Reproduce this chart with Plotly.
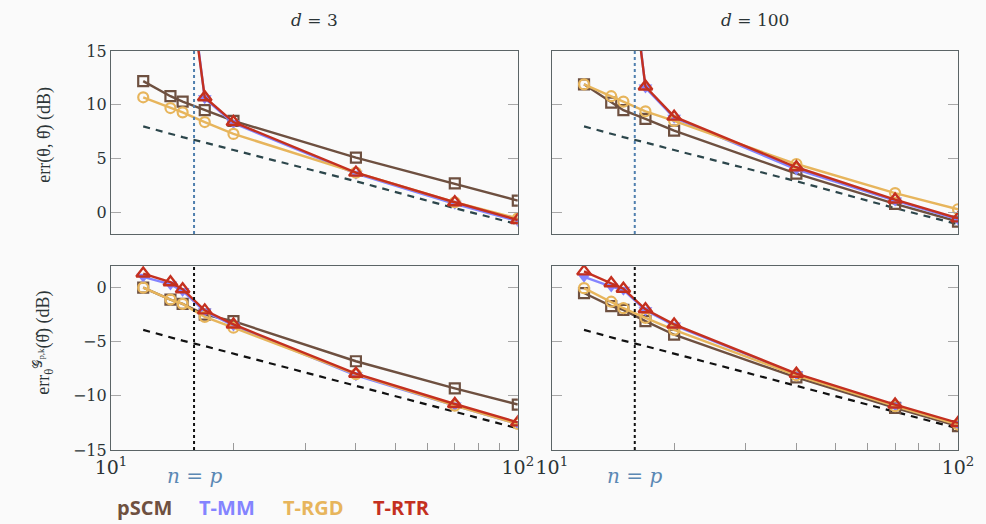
import plotly.graph_objects as go
from plotly.subplots import make_subplots

n_vals = [12, 14, 15, 17, 20, 40, 70, 100]
p_line = 16

# top row: err(theta, theta_hat) (dB)
pscm_d3_err = [12.2, 10.8, 10.3, 9.5, 8.5, 5.1, 2.7, 1.1]
mm_d3_err = [41, 33, 27, 10.6, 8.3, 3.6, 0.8, -0.8]
rgd_d3_err = [10.7, 9.7, 9.3, 8.4, 7.3, 3.7, 0.95, -0.55]
rtr_d3_err = [40, 32, 26, 10.7, 8.4, 3.7, 0.95, -0.7]

pscm_d100_err = [11.9, 10.2, 9.5, 8.7, 7.6, 3.6, 0.8, -0.85]
mm_d100_err = [41, 34, 29, 11.6, 8.8, 4.0, 1.1, -0.65]
rgd_d100_err = [11.9, 10.8, 10.3, 9.4, 8.5, 4.5, 1.8, 0.3]
rtr_d100_err = [40, 33, 28, 11.7, 8.9, 4.2, 1.2, -0.55]

bound_top = [8.0, 7.3, 7.0, 6.5, 5.8, 2.9, 0.4, -1.1]

# bottom row: err_theta^G (dB)
pscm_d3_g = [0.0, -1.1, -1.5, -2.5, -3.1, -6.8, -9.3, -10.8]
mm_d3_g = [1.0, 0.3, -0.3, -2.2, -3.5, -8.1, -10.9, -12.6]
rgd_d3_g = [0.0, -1.1, -1.5, -2.7, -3.7, -8.0, -10.9, -12.6]
rtr_d3_g = [1.3, 0.5, -0.15, -2.1, -3.4, -7.95, -10.75, -12.45]

pscm_d100_g = [-0.5, -1.7, -2.05, -3.1, -4.35, -8.3, -11.1, -12.8]
mm_d100_g = [1.0, 0.1, -0.2, -2.1, -3.5, -8.0, -10.9, -12.6]
rgd_d100_g = [-0.05, -1.3, -1.9, -2.8, -3.9, -8.1, -10.95, -12.65]
rtr_d100_g = [1.5, 0.4, -0.1, -2.0, -3.4, -7.95, -10.8, -12.5]

bound_bot = [-3.9, -4.6, -4.9, -5.4, -6.1, -9.1, -11.5, -13.0]

C_PSCM = "#6e5040"
C_MM = "#8484ff"
C_RGD = "#e7b55c"
C_RTR = "#c4301f"
BG = "#fafafa"
TXT = "#2b3436"

fig = make_subplots(rows=2, cols=2, horizontal_spacing=0.0402, vertical_spacing=0.08)

panels = [
    (1, 1, pscm_d3_err, mm_d3_err, rgd_d3_err, rtr_d3_err, bound_top, "#2c464b"),
    (1, 2, pscm_d100_err, mm_d100_err, rgd_d100_err, rtr_d100_err, bound_top, "#2c464b"),
    (2, 1, pscm_d3_g, mm_d3_g, rgd_d3_g, rtr_d3_g, bound_bot, "#111111"),
    (2, 2, pscm_d100_g, mm_d100_g, rgd_d100_g, rtr_d100_g, bound_bot, "#111111"),
]

for r, c, ps, mm, rg, rt, bd, bc in panels:
    fig.add_trace(go.Scatter(x=n_vals, y=bd, mode="lines",
                             line=dict(color=bc, width=2.2, dash="7px,6px"),
                             showlegend=False), row=r, col=c)
    fig.add_trace(go.Scatter(x=n_vals, y=ps, mode="lines+markers",
                             line=dict(color=C_PSCM, width=2.4),
                             marker=dict(symbol="square-open", size=10, color=C_PSCM,
                                         line=dict(width=2.2, color=C_PSCM)),
                             showlegend=False), row=r, col=c)
    fig.add_trace(go.Scatter(x=n_vals, y=mm, mode="lines+markers",
                             line=dict(color=C_MM, width=2.4),
                             marker=dict(symbol="triangle-down", size=12, color=C_MM),
                             showlegend=False), row=r, col=c)
    fig.add_trace(go.Scatter(x=n_vals, y=rg, mode="lines+markers",
                             line=dict(color=C_RGD, width=2.4),
                             marker=dict(symbol="circle-open", size=10, color=C_RGD,
                                         line=dict(width=2.2, color=C_RGD)),
                             showlegend=False), row=r, col=c)
    fig.add_trace(go.Scatter(x=n_vals, y=rt, mode="lines+markers",
                             line=dict(color=C_RTR, width=2.4),
                             marker=dict(symbol="triangle-up-open", size=12, color=C_RTR,
                                         line=dict(width=2.4, color=C_RTR)),
                             showlegend=False), row=r, col=c)

x_domains = [[0, 0.4803], [0.5205, 1]]
y_domains = {1: [0.5414, 1], 2: [0, 0.4612]}

tick_font = dict(family="DejaVu Serif", size=16, color=TXT)
minor_vals = [10, 20, 30, 40, 50, 60, 70, 80, 90, 100]
minor_text = ["10<sup>1</sup>", "", "", "", "", "", "", "", "", "10<sup>2</sup>"]

for r in (1, 2):
    for c in (1, 2):
        fig.update_xaxes(type="log", range=[1, 2], domain=x_domains[c - 1],
                         showline=True, mirror=True, linecolor="#5b6466", linewidth=1.2,
                         showgrid=False, zeroline=False,
                         tickvals=minor_vals if r == 2 else [],
                         ticktext=minor_text if r == 2 else [],
                         ticks="inside" if r == 2 else "", ticklen=7, tickcolor="#9a9a9a",
                         showticklabels=(r == 2), tickfont=dict(family="DejaVu Serif", size=19, color=TXT),
                         row=r, col=c)
        if r == 1:
            fig.update_yaxes(range=[-2, 15], tickvals=[0, 5, 10, 15],
                             ticktext=["0", "5", "10", "15"], row=r, col=c)
        else:
            fig.update_yaxes(range=[-15, 2], tickvals=[-15, -10, -5, 0],
                             ticktext=["−15", "−10", "−5", "0"], row=r, col=c)
        fig.update_yaxes(domain=y_domains[r], showline=True, mirror="ticks",
                         linecolor="#5b6466", linewidth=1.2, showgrid=False, zeroline=False,
                         ticks="inside", ticklen=10, tickcolor="#a8a8a8",
                         showticklabels=(c == 1), tickfont=tick_font, row=r, col=c)

# y-axis titles
fig.add_annotation(text="err(θ, \u03b8\u0302) (dB)", xref="paper", yref="paper",
                   x=(43 - 111) / 855, y=(450 - 135) / 399, textangle=-90, showarrow=False,
                   xanchor="center", yanchor="middle",
                   font=dict(family="Liberation Serif, DejaVu Serif", size=18, color=TXT))
fig.add_annotation(text="err<sub>θ</sub><sup>𝒢<sub>p,k</sub></sup>(\u03b8\u0302) (dB)", xref="paper", yref="paper",
                   x=(42 - 111) / 855, y=(450 - 343) / 399, textangle=-90, showarrow=False,
                   xanchor="center", yanchor="middle",
                   font=dict(family="Liberation Serif, DejaVu Serif", size=18, color=TXT))

# vertical n = p lines
axes_ref = [("x", "y", "#4f7fae"), ("x2", "y2", "#4f7fae"), ("x3", "y3", "#111111"), ("x4", "y4", "#111111")]
for xr, yr, col in axes_ref:
    fig.add_shape(type="line", xref=xr, yref=yr + " domain", x0=p_line, x1=p_line, y0=0, y1=1,
                  line=dict(color=col, width=2, dash="dot"))

for xr in ("x3", "x4"):
    fig.add_annotation(text="<i>n</i> = <i>p</i>", xref=xr, yref="paper", x=1.2041, y=-0.03,
                       yanchor="top", showarrow=False,
                       font=dict(family="DejaVu Serif", size=20, color="#5a88b4"))

fig.add_annotation(text="<i>d</i> = 3", xref="x domain", yref="paper", x=0.5, y=1.0, yshift=31,
                   yanchor="middle", showarrow=False, font=dict(family="DejaVu Serif", size=17, color=TXT))
fig.add_annotation(text="<i>d</i> = 100", xref="x2 domain", yref="paper", x=0.5, y=1.0, yshift=31,
                   yanchor="middle", showarrow=False, font=dict(family="DejaVu Serif", size=17, color=TXT))

legend_items = [("pSCM", C_PSCM, 145), ("T-MM", C_MM, 228), ("T-RGD", C_RGD, 315), ("T-RTR", C_RTR, 404)]
for name, col, xp in legend_items:
    fig.add_annotation(text="<b>" + name + "</b>", xref="paper", yref="paper",
                       x=(xp - 111) / 855, y=-(507 - 450) / 399, showarrow=False,
                       xanchor="center", yanchor="middle",
                       font=dict(family="Open Sans", size=20, color=col))

fig.update_layout(width=986, height=524, margin=dict(l=111, r=20, t=51, b=74),
                  paper_bgcolor=BG, plot_bgcolor=BG, showlegend=False)

fig.write_html("out.html", config={"displayModeBar": False},
               post_script="document.body.style.margin='0';document.body.style.background='#fafafa';")
